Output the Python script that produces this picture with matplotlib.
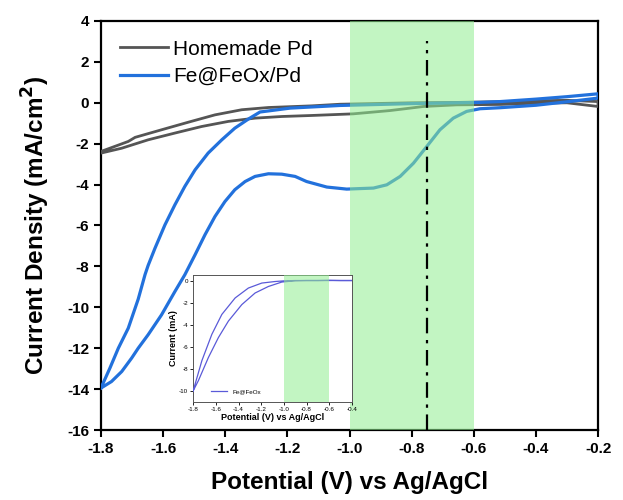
import matplotlib
matplotlib.use("Agg")
import matplotlib.pyplot as plt

plt.rcParams['font.family'] = ['Liberation Sans', 'DejaVu Sans']

# Homemade Pd (forward and reverse branches)
pd_fwd_v = [-1.8, -1.733, -1.648, -1.562, -1.476, -1.39, -1.304, -1.218, -1.122, -0.988, -0.87, -0.81, -0.762,
            -0.655, -0.515, -0.4, -0.3, -0.2]
pd_fwd_j = [-2.46, -2.22, -1.81, -1.48, -1.16, -0.91, -0.75, -0.67, -0.62, -0.54, -0.38, -0.27, -0.18,
            -0.1, -0.08, -0.02, 0.0, -0.18]
pd_rev_v = [-0.2, -0.3, -0.4, -0.5, -0.65, -0.8, -1.03, -1.122, -1.261, -1.347, -1.433, -1.519, -1.605, -1.69,
            -1.712, -1.755, -1.8]
pd_rev_j = [0.06, 0.12, 0.1, 0.06, 0.02, 0.0, -0.07, -0.15, -0.23, -0.34, -0.59, -0.95, -1.32, -1.69,
            -1.89, -2.13, -2.38]

# Fe@FeOx/Pd
fe_fwd_v = [-1.8, -1.766, -1.733, -1.701, -1.68, -1.648, -1.605, -1.562, -1.53, -1.497, -1.465, -1.433, -1.401,
            -1.369, -1.336, -1.304, -1.261, -1.218, -1.175, -1.138, -1.073, -1.009, -0.923, -0.88, -0.837,
            -0.794, -0.751, -0.709, -0.666, -0.623, -0.58, -0.515, -0.4, -0.3, -0.2]
fe_fwd_j = [-13.95, -13.63, -13.14, -12.48, -12.0, -11.34, -10.37, -9.23, -8.41, -7.43, -6.45, -5.56, -4.83,
            -4.25, -3.85, -3.6, -3.47, -3.49, -3.6, -3.85, -4.12, -4.22, -4.17, -4.01, -3.6,
            -2.95, -2.13, -1.32, -0.75, -0.42, -0.29, -0.24, -0.12, 0.05, 0.23]
fe_rev_v = [-0.2, -0.3, -0.4, -0.515, -0.58, -0.8, -1.03, -1.191, -1.288, -1.326, -1.369, -1.411, -1.455,
            -1.497, -1.53, -1.562, -1.594, -1.626, -1.648, -1.658, -1.68, -1.712, -1.744, -1.771, -1.8]
fe_rev_j = [0.44, 0.3, 0.18, 0.06, 0.02, -0.04, -0.13, -0.26, -0.45, -0.8, -1.24, -1.81, -2.46,
            -3.28, -4.09, -4.99, -5.97, -7.11, -7.95, -8.4, -9.6, -11.02, -12.0, -12.97, -13.95]

# Inset: Fe@FeOx
ins_v = [-1.8, -1.723, -1.635, -1.547, -1.43, -1.313, -1.195, -1.078, -1.0, -0.9, -0.8, -0.7, -0.6, -0.5, -0.4,
         -0.5, -0.6, -0.7, -0.8, -0.9, -1.019, -1.137, -1.254, -1.371, -1.489, -1.577, -1.665, -1.753, -1.8]
ins_j = [-10, -7.26, -4.87, -3.07, -1.58, -0.68, -0.23, -0.09, -0.03, 0, 0, 0, 0.02, 0, 0,
         0, 0, 0, 0, -0.02, -0.14, -0.54, -1.13, -2.18, -3.67, -5.16, -6.96, -9.05, -10]

x_ticks = [-1.8, -1.6, -1.4, -1.2, -1.0, -0.8, -0.6, -0.4, -0.2]
y_ticks = [4, 2, 0, -2, -4, -6, -8, -10, -12, -14, -16]
ins_x_ticks = [-1.8, -1.6, -1.4, -1.2, -1.0, -0.8, -0.6, -0.4]
ins_y_ticks = [0, -2, -4, -6, -8, -10]
band = (-1.0, -0.6)
marker_v = -0.75

fig = plt.figure(figsize=(6.23, 5.0), dpi=100)
ax = fig.add_axes([0.162, 0.14, 0.798, 0.818])

gray = '#555555'
blue = '#2271dc'
ax.plot(pd_fwd_v + pd_rev_v, pd_fwd_j + pd_rev_j, color=gray, lw=2.0, label='Homemade Pd', zorder=3)
ax.plot(fe_fwd_v + fe_rev_v, fe_fwd_j + fe_rev_j, color=blue, lw=2.3, label='Fe@FeOx/Pd', zorder=3)
ax.axvspan(band[0], band[1], color='#90EE90', alpha=0.55, lw=0, zorder=4)
ax.vlines(marker_v, -16, 3, colors='black', linestyles=(0, (7, 3, 1.5, 3)), lw=1.6, zorder=5)

ax.set_xlim(-1.8, -0.2)
ax.set_ylim(-16, 4)
ax.set_xticks(x_ticks)
ax.set_yticks(y_ticks)
ax.set_xticklabels([f'{v:.1f}' for v in x_ticks], fontsize=11, fontweight='bold')
ax.set_yticklabels([str(v) for v in y_ticks], fontsize=11, fontweight='bold')
ax.tick_params(direction='out', length=5, width=1.5)
for s in ax.spines.values():
    s.set_linewidth(1.6)
ax.set_xlabel('Potential (V) vs Ag/AgCl', fontsize=17.5, fontweight='bold', labelpad=11)
ax.set_ylabel('Current Density (mA/cm$^\\mathbf{2}$)', fontsize=17.5, fontweight='bold', labelpad=11)
ax.legend(loc='upper left', frameon=False, fontsize=15, handlelength=2.3, handletextpad=0.25,
          borderaxespad=0.5, labelspacing=0.4, borderpad=0.4)

# Inset
ins = fig.add_axes([0.310, 0.196, 0.255, 0.254])
ins.plot(ins_v, ins_j, color='#5a5ad8', lw=0.9, label='Fe@FeOx', zorder=3)
ins.axvspan(band[0], band[1], color='#90EE90', alpha=0.55, lw=0, zorder=4)
ins.set_xlim(-1.8, -0.4)
ins.set_ylim(-11, 0.5)
ins.set_xticks(ins_x_ticks)
ins.set_yticks(ins_y_ticks)
ins.set_xticklabels([f'{v:.1f}' for v in ins_x_ticks], fontsize=4.5)
ins.set_yticklabels([str(v) for v in ins_y_ticks], fontsize=4.5)
ins.tick_params(direction='out', length=2, width=0.6, pad=1.5)
for s in ins.spines.values():
    s.set_linewidth(0.7)
    s.set_color('#555555')
ins.set_xlabel('Potential (V) vs Ag/AgCl', fontsize=6.5, fontweight='bold', labelpad=1)
ins.set_ylabel('Current (mA)', fontsize=6.5, fontweight='bold', labelpad=1)
ins.legend(loc='lower left', bbox_to_anchor=(0.08, 0.02), frameon=False, fontsize=4.5, handlelength=2.5)

fig.savefig('out.png', dpi=100)
